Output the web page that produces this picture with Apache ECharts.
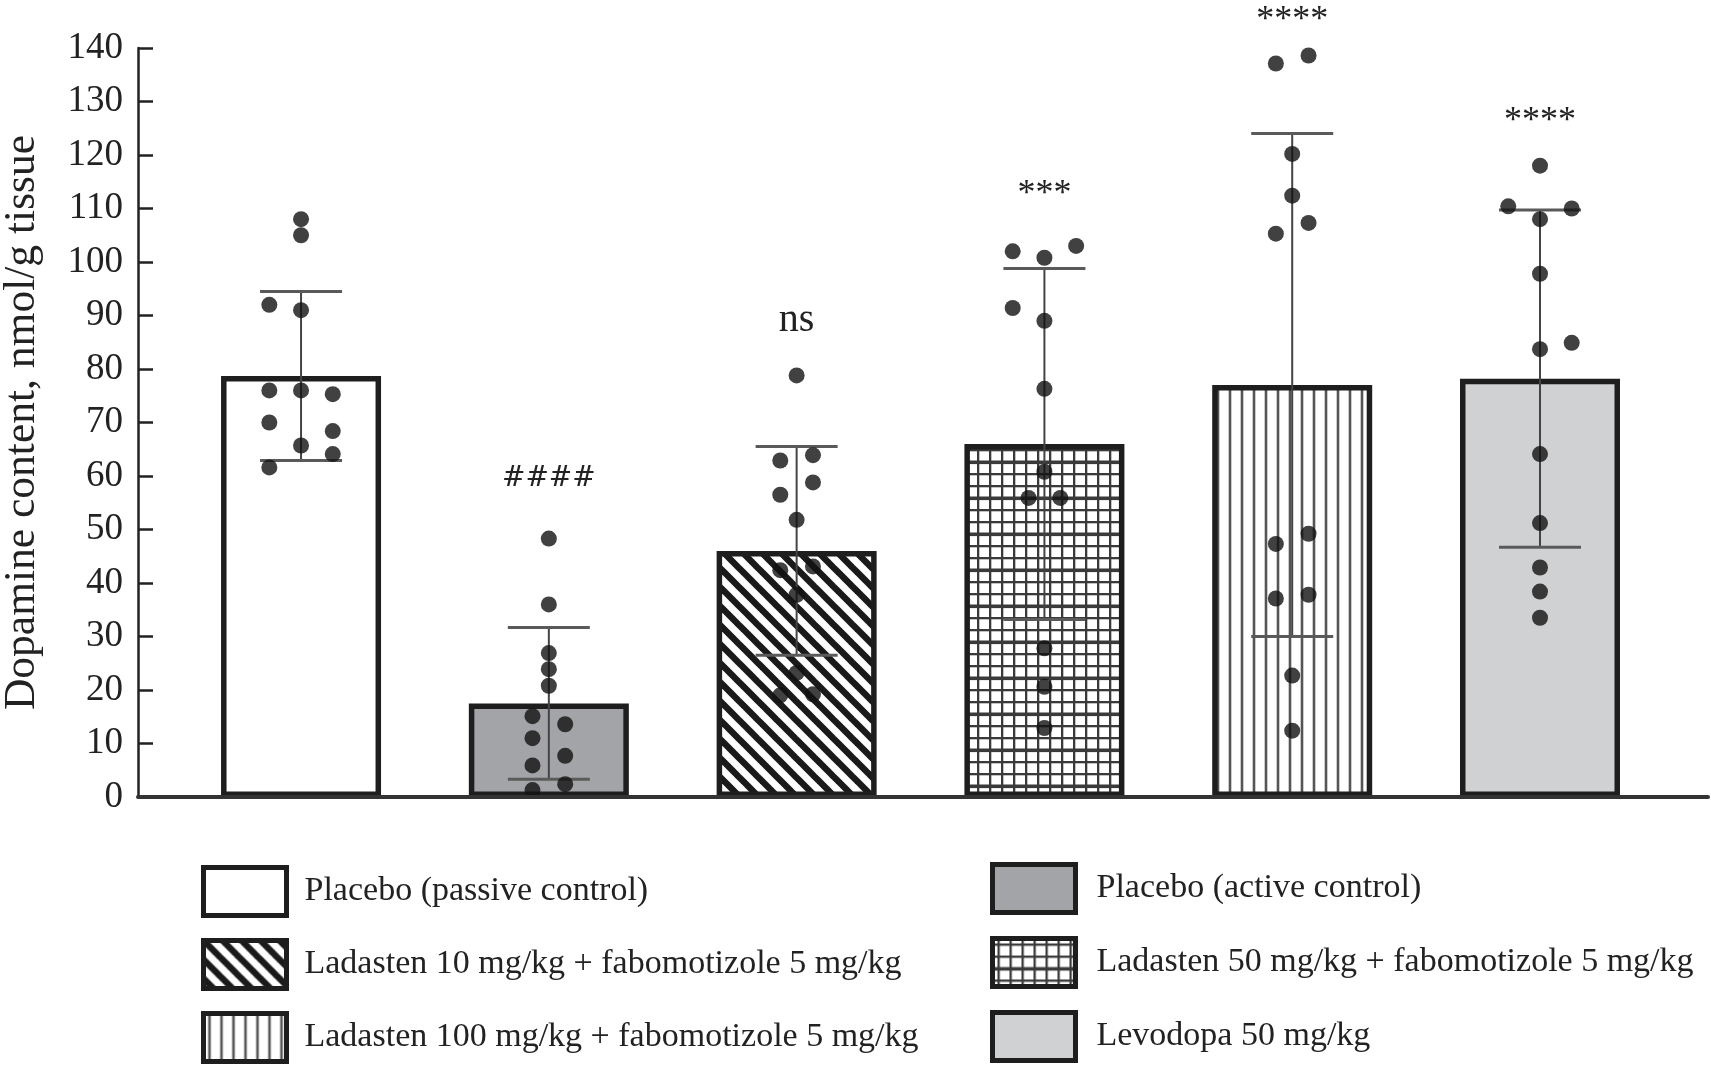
<!DOCTYPE html>
<html>
<head>
<meta charset="utf-8">
<script src="https://cdn.jsdelivr.net/npm/echarts@6/dist/echarts.min.js"></script>
<style>
  html, body { margin: 0; padding: 0; background: #fff; }
  #chart { width: 1711px; height: 1085px; }
</style>
</head>
<body>
<div id="chart"></div>
<script>
// groups, in bar order
const groups = [
  'Placebo (passive control)',
  'Placebo (active control)',
  'Ladasten 10 mg/kg + fabomotizole 5 mg/kg',
  'Ladasten 50 mg/kg + fabomotizole 5 mg/kg',
  'Ladasten 100 mg/kg + fabomotizole 5 mg/kg',
  'Levodopa 50 mg/kg'
];
// bar heights and SD
const means = [78.7, 17.5, 46, 66, 77, 78.2];
const sds = [15.8, 14.2, 19.5, 32.8, 47, 31.5];
// individual animals
const points = [
  [108, 105, 92, 91, 76, 76, 75.3, 70, 68.4, 65.7, 61.6, 64.1],
  [48.3, 36, 26.9, 23.9, 20.8, 15.1, 13.6, 11, 7.7, 5.9, 2.4, 1.3],
  [78.8, 63.9, 62.9, 58.8, 56.5, 51.8, 42.4, 43.1, 37.8, 23.2, 19, 19.2],
  [102, 100.8, 103, 91.4, 89, 76.3, 60.8, 55.9, 55.9, 27.8, 20.6, 12.9],
  [137.1, 138.6, 120.2, 112.4, 105.3, 107.3, 47.3, 49.2, 37.1, 37.8, 22.7, 12.4],
  [118, 110.4, 110, 108, 97.8, 83.7, 84.9, 64.1, 51.2, 42.9, 38.4, 33.5]
];
// horizontal spread of the dots (fraction of a category)
const jitter = [
  [0, 0, -0.128, 0, -0.128, 0, 0.128, -0.128, 0.128, 0, -0.128, 0.128],
  [0, 0, 0, 0, 0, -0.066, 0.066, -0.066, 0.066, -0.066, 0.066, -0.066],
  [0, 0.066, -0.066, 0.066, -0.066, 0, -0.066, 0.066, 0, 0, -0.066, 0.066],
  [-0.128, 0, 0.128, -0.128, 0, 0, 0, -0.064, 0.064, 0, 0, 0],
  [-0.066, 0.066, 0, 0, -0.066, 0.066, -0.066, 0.066, -0.066, 0.066, 0, 0],
  [0, -0.128, 0.128, 0, 0, 0, 0.128, 0, 0, 0, 0, 0]
];
// significance marks and the value where each one sits
const sigLabels = ['', '####', 'ns', '***', '****', '****'];
const sigAt = [null, 59.5, 89, 112.6, 145.1, 126.2];

const FONT = "'Liberation Serif', 'Times New Roman', serif";

// fill patterns
function makePattern(kind) {
  const c = document.createElement('canvas');
  const ctx = c.getContext('2d');
  if (kind === 'diag') {
    c.width = 19; c.height = 19;
    ctx.fillStyle = '#fff'; ctx.fillRect(0, 0, 19, 19);
    ctx.strokeStyle = '#1a1a1a'; ctx.lineWidth = 6.5;
    for (const k of [-1, 0, 1]) {
      ctx.beginPath();
      ctx.moveTo(k * 19 - 3, -3);
      ctx.lineTo(k * 19 + 22, 22);
      ctx.stroke();
    }
  } else if (kind === 'grid') {
    c.width = 12; c.height = 36;
    ctx.fillStyle = '#fff'; ctx.fillRect(0, 0, 12, 36);
    ctx.fillStyle = '#3a3a3a';
    ctx.fillRect(5, 0, 2.3, 36);
    ctx.fillRect(0, 5, 12, 2.3);
    ctx.fillRect(0, 17, 12, 2.3);
    ctx.fillRect(0, 28.5, 12, 3.6);
  } else {
    c.width = 12; c.height = 12;
    ctx.fillStyle = '#fff'; ctx.fillRect(0, 0, 12, 12);
    ctx.fillStyle = '#555';
    ctx.fillRect(4.7, 0, 2.6, 12);
  }
  return { image: c, repeat: 'repeat' };
}

const fills = ['#ffffff', '#a3a4a7', makePattern('diag'), makePattern('grid'), makePattern('vert'), '#d0d1d3'];

const barSeries = groups.map((name, i) => ({
  name: name,
  type: 'bar',
  data: [[i, means[i]]],
  barWidth: 160,
  barGap: '-100%',
  z: 2,
  itemStyle: { color: fills[i], borderColor: '#1e1e1e', borderWidth: 5.5 },
  emphasis: { disabled: true }
}));

const errData = groups.map((g, i) => [i, means[i], sds[i]]);
const dotData = [];
points.forEach((arr, i) => {
  arr.forEach((v, j) => dotData.push([i + jitter[i][j], v]));
});
const sigData = [];
sigLabels.forEach((t, i) => { if (t) sigData.push([i, sigAt[i], t]); });

const legendBase = {
  orient: 'vertical',
  icon: 'rect',
  itemWidth: 83,
  itemHeight: 48,
  padding: 0,
  selectedMode: false,
  itemStyle: { borderWidth: 5, borderColor: '#1e1e1e' },
  textStyle: { fontFamily: FONT, fontSize: 34, color: '#222' }
};

const chart = echarts.init(document.getElementById('chart'));
chart.setOption({
  backgroundColor: '#fff',
  animation: false,
  grid: { left: 138, right: 3, top: 48, bottom: 288, containLabel: false, outerBoundsMode: 'none' },
  xAxis: {
    type: 'value',
    min: -0.658,
    max: 5.678,
    z: 10,
    axisLine: { show: true, onZero: true, lineStyle: { color: '#333', width: 4 } },
    axisTick: { show: false },
    axisLabel: { show: false },
    splitLine: { show: false }
  },
  yAxis: {
    type: 'value',
    min: 0,
    max: 140,
    interval: 10,
    name: 'Dopamine content, nmol/g tissue',
    nameLocation: 'middle',
    nameGap: 93,
    nameTextStyle: { fontFamily: FONT, fontSize: 43.5, color: '#222' },
    axisLine: { show: true, onZero: false, lineStyle: { color: '#222', width: 2.5 } },
    axisTick: { show: true, inside: true, length: 15, lineStyle: { color: '#222', width: 2.5 } },
    axisLabel: { fontFamily: FONT, fontSize: 37, color: '#222', margin: 15 },
    splitLine: { show: false }
  },
  legend: [
    Object.assign({}, legendBase, {
      data: [groups[0], groups[2], groups[4]],
      left: 201, top: 865, itemGap: 20,
      textStyle: Object.assign({}, legendBase.textStyle, { padding: [6, 0, 0, 13] })
    }),
    Object.assign({}, legendBase, {
      data: [groups[1], groups[3], groups[5]],
      left: 990, top: 862, itemGap: 21,
      textStyle: Object.assign({}, legendBase.textStyle, { padding: [6, 0, 0, 16] })
    })
  ],
  series: barSeries.concat([
    {
      type: 'custom',
      name: 'sd',
      z: 3,
      silent: true,
      data: errData,
      encode: { x: 0, y: 1 },
      renderItem: function (params, api) {
        const x = api.value(0), m = api.value(1), s = api.value(2);
        const top = api.coord([x, m + s]);
        const bot = api.coord([x, m - s]);
        const half = 41;
        return {
          type: 'group',
          children: [
            { type: 'line', shape: { x1: top[0], y1: top[1], x2: bot[0], y2: bot[1] }, style: { stroke: '#444', lineWidth: 2 } },
            { type: 'line', shape: { x1: top[0] - half, y1: top[1], x2: top[0] + half, y2: top[1] }, style: { stroke: '#5a5a5a', lineWidth: 3 } },
            { type: 'line', shape: { x1: bot[0] - half, y1: bot[1], x2: bot[0] + half, y2: bot[1] }, style: { stroke: '#5a5a5a', lineWidth: 3 } }
          ]
        };
      }
    },
    {
      type: 'scatter',
      name: 'dots',
      z: 4,
      silent: true,
      symbol: 'circle',
      symbolSize: 16,
      itemStyle: { color: '#111' },
      data: dotData
    },
    {
      type: 'custom',
      name: 'sig',
      z: 5,
      silent: true,
      data: sigData,
      encode: { x: 0, y: 1 },
      renderItem: function (params, api) {
        const p = api.coord([api.value(0), api.value(1)]);
        const txt = sigData[params.dataIndex][2];
        const hash = txt.charAt(0) === '#';
        return {
          type: 'text',
          x: p[0],
          y: p[1],
          style: {
            text: txt,
            fill: '#222',
            align: 'center',
            verticalAlign: 'middle',
            font: hash ? "28px 'DejaVu Serif', serif" : (txt === 'ns' ? '40px ' + FONT : '36px ' + FONT)
          }
        };
      }
    }
  ])
});
</script>
</body>
</html>
